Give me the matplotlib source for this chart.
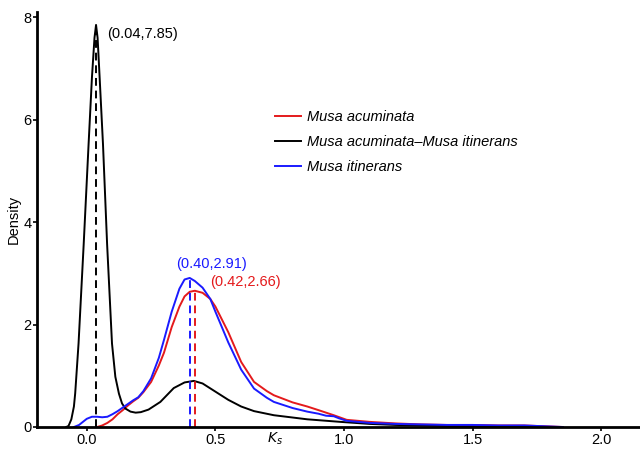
import matplotlib.pyplot as plt
from matplotlib import transforms

plt.rcParams["font.family"] = ["Liberation Sans", "DejaVu Sans"]

# densites
x_noir = [-0.08, -0.071, -0.06, -0.05, -0.045, -0.032, -0.012, 0.007, 0.02, 0.03, 0.036,
          0.042, 0.05, 0.063, 0.079, 0.098, 0.111, 0.125, 0.137, 0.15, 0.17, 0.19, 0.21,
          0.24, 0.286, 0.338, 0.38, 0.416, 0.45, 0.50, 0.55, 0.60, 0.65, 0.727, 0.857,
          0.986, 1.1, 1.2, 1.4, 1.6, 1.8]
y_noir = [0.0, 0.02, 0.15, 0.4, 0.66, 1.63, 3.57, 5.52, 6.82, 7.6, 7.85,
          7.6, 6.82, 5.52, 3.57, 1.63, 0.98, 0.65, 0.46, 0.36, 0.3, 0.28, 0.29,
          0.34, 0.49, 0.76, 0.87, 0.9, 0.85, 0.69, 0.53, 0.4, 0.31, 0.23, 0.15,
          0.1, 0.06, 0.04, 0.02, 0.01, 0.0]

x_bleu = [-0.05, -0.03, -0.01, 0.0, 0.02, 0.04, 0.06, 0.08, 0.10, 0.12, 0.14, 0.16, 0.18,
          0.20, 0.22, 0.25, 0.28, 0.30, 0.33, 0.36, 0.38, 0.40, 0.42, 0.45, 0.48, 0.50,
          0.55, 0.60, 0.65, 0.70, 0.727, 0.80, 0.857, 0.90, 0.93, 0.96, 0.98, 1.01, 1.1,
          1.2, 1.3, 1.4, 1.5, 1.6, 1.7, 1.8, 1.85]
y_bleu = [0.0, 0.04, 0.12, 0.16, 0.2, 0.2, 0.19, 0.2, 0.25, 0.31, 0.38, 0.45, 0.52,
          0.58, 0.7, 0.95, 1.35, 1.7, 2.25, 2.7, 2.88, 2.91, 2.85, 2.72, 2.5, 2.25,
          1.65, 1.12, 0.75, 0.57, 0.49, 0.37, 0.3, 0.26, 0.22, 0.21, 0.17, 0.12, 0.08,
          0.06, 0.05, 0.04, 0.04, 0.03, 0.03, 0.01, 0.0]

x_rouge = [0.04, 0.06, 0.08, 0.10, 0.12, 0.14, 0.16, 0.18, 0.20, 0.22, 0.25, 0.28, 0.30,
           0.33, 0.36, 0.38, 0.40, 0.42, 0.45, 0.48, 0.50, 0.55, 0.60, 0.65, 0.70, 0.727,
           0.80, 0.857, 0.90, 0.96, 1.01, 1.1, 1.2, 1.3, 1.4, 1.5, 1.6, 1.7, 1.8, 1.85]
y_rouge = [0.0, 0.03, 0.08, 0.15, 0.25, 0.33, 0.42, 0.5, 0.57, 0.68, 0.88, 1.2, 1.45,
           1.95, 2.35, 2.55, 2.64, 2.66, 2.62, 2.5, 2.35, 1.85, 1.27, 0.88, 0.7, 0.62,
           0.48, 0.4, 0.33, 0.23, 0.14, 0.1, 0.07, 0.05, 0.04, 0.04, 0.03, 0.03, 0.01, 0.0]

pics_x = [0.42, 0.036, 0.40]
pics_y = [2.66, 7.85, 2.91]
couleurs = ["#e41a1c", "black", "#1a1aff"]
noms = ["Musa acuminata", "Musa acuminata\u2013Musa itinerans", "Musa itinerans"]

fig = plt.figure(figsize=(6.4, 4.49), dpi=100)
ax = fig.add_axes([0.058, 0.049, 0.942, 0.924])

ax.plot(x_rouge, y_rouge, color=couleurs[0], lw=1.4, label=noms[0])
ax.plot(x_noir, y_noir, color=couleurs[1], lw=1.4, label=noms[1])
ax.plot(x_bleu, y_bleu, color=couleurs[2], lw=1.4, label=noms[2])

for px, py, c in zip(pics_x, pics_y, couleurs):
    ax.plot([px, px], [0, py], color=c, lw=1.4, linestyle=(0, (4, 2.5)))

ax.text(0.078, 7.67, "(0.04,7.85)", fontsize=10.5, color="black", va="center", ha="left")
ax.text(0.485, 3.19, "(0.40,2.91)", fontsize=10.5, color=couleurs[2], va="center", ha="center")
ax.text(0.617, 2.84, "(0.42,2.66)", fontsize=10.5, color=couleurs[0], va="center", ha="center")

ax.set_xlim(-0.193, 2.15)
ax.set_ylim(0, 8.1)
ax.set_xticks([0.0, 0.5, 1.0, 1.5, 2.0])
ax.set_xticklabels(["0.0", "0.5", "1.0", "1.5", "2.0"])
ax.set_yticks([0, 2, 4, 6, 8])
ax.tick_params(labelsize=10.5, width=1.2, length=3, pad=1)
for s in ["top", "right"]:
    ax.spines[s].set_visible(False)
for s in ["left", "bottom"]:
    ax.spines[s].set_linewidth(2)
ax.set_ylabel("Density", fontsize=10.5, labelpad=2)

tr = transforms.blended_transform_factory(ax.transData, ax.transAxes)
ax.text(0.733, -0.009, r"$\mathit{K}_s$", transform=tr, fontsize=10, ha="center", va="top", clip_on=False)

leg = ax.legend(loc="upper left", bbox_to_anchor=(0.373, 0.796), frameon=False,
                handlelength=1.8, handletextpad=0.4, labelspacing=0.75,
                prop={"style": "italic", "size": 10.5, "family": ["Liberation Sans", "DejaVu Sans"]})

fig.savefig("out.png", dpi=100)
